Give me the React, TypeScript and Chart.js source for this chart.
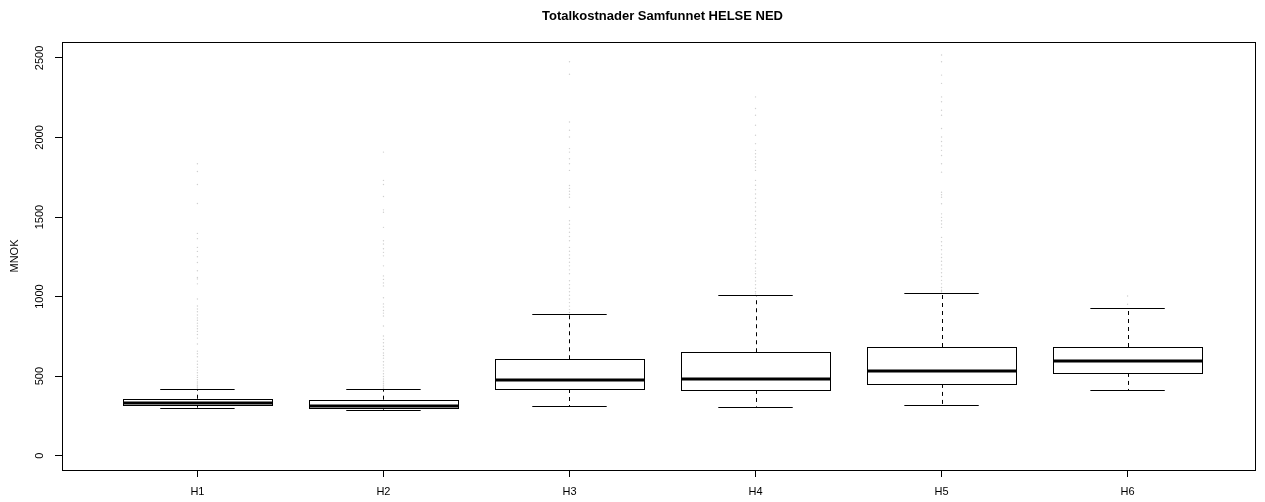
import React, { useEffect, useRef } from "react";
import { Chart, registerables } from "chart.js";

Chart.register(...registerables);

const title = "Totalkostnader Samfunnet HELSE NED";
const yAxisTitle = "MNOK";
const categories = ["H1", "H2", "H3", "H4", "H5", "H6"];
const yTicks = [0, 500, 1000, 1500, 2000, 2500];

const lowerWhisker = [302, 289, 312, 308, 319, 411];
const q1 = [317, 302, 419, 413, 451, 520];
const median = [329, 314, 476, 482, 534, 597];
const q3 = [358, 352, 606, 650, 683, 683];
const upperWhisker = [417, 417, 892, 1008, 1024, 926];

const outliersH1 = [1835, 1786, 1704, 1585, 1397, 1364, 1309, 1284, 1250, 1214, 1162, 1120, 1111, 1080, 985, 941, 922, 905, 884, 866, 851, 833, 815, 798, 781, 762, 739, 702, 657, 641, 622, 594, 575, 556, 538, 521, 505, 492, 478, 463, 451, 440, 432, 425];
const outliersH2 = [1908, 1730, 1704, 1629, 1545, 1530, 1435, 1351, 1330, 1301, 1278, 1256, 1193, 1130, 1108, 1086, 1067, 993, 954, 935, 912, 896, 878, 815, 752, 731, 710, 688, 668, 645, 630, 613, 590, 570, 552, 533, 515, 498, 482, 468, 455, 443, 432, 424];
const outliersH3 = [2476, 2397, 2097, 2045, 2003, 1930, 1908, 1866, 1835, 1793, 1698, 1680, 1662, 1643, 1624, 1561, 1477, 1455, 1430, 1404, 1378, 1351, 1309, 1285, 1262, 1240, 1216, 1193, 1168, 1143, 1099, 1075, 1052, 1030, 1008, 985, 962, 940, 918, 900];
const outliersH4 = [2255, 2182, 2140, 2077, 2014, 1961, 1919, 1898, 1877, 1856, 1835, 1814, 1793, 1730, 1700, 1672, 1645, 1618, 1590, 1563, 1536, 1508, 1481, 1454, 1426, 1399, 1372, 1344, 1317, 1290, 1262, 1235, 1208, 1180, 1160, 1143, 1120, 1098, 1075, 1052, 1030, 1017];
const outliersH5 = [2518, 2476, 2392, 2340, 2255, 2224, 2171, 2140, 2056, 2003, 1975, 1947, 1919, 1887, 1835, 1782, 1656, 1640, 1624, 1583, 1520, 1498, 1477, 1456, 1435, 1372, 1345, 1320, 1294, 1267, 1246, 1222, 1198, 1174, 1150, 1126, 1102, 1080, 1057, 1040, 1030];
const outliersH6 = [1004, 952];
const outliers = [outliersH1, outliersH2, outliersH3, outliersH4, outliersH5, outliersH6];

const FONT = "'Liberation Sans', Arial, Helvetica, sans-serif";

const boxPlugin = {
  id: "rboxplot",
  afterDatasetsDraw(chart: any) {
    const { ctx, chartArea, scales } = chart;
    const xs = scales.x;
    const ys = scales.y;
    const al = (v: number) => Math.round(v) + 0.5;
    ctx.save();
    ctx.strokeStyle = "#000";
    for (let i = 0; i < categories.length; i++) {
      const cx = xs.getPixelForValue(i + 1);
      const hw = xs.getPixelForValue(i + 1 + 0.4) - cx;
      const sw = hw / 2;
      const yLo = ys.getPixelForValue(lowerWhisker[i]);
      const yQ1 = ys.getPixelForValue(q1[i]);
      const yMed = ys.getPixelForValue(median[i]);
      const yQ3 = ys.getPixelForValue(q3[i]);
      const yHi = ys.getPixelForValue(upperWhisker[i]);
      // whiskers
      ctx.lineWidth = 1;
      ctx.setLineDash([4, 4]);
      ctx.beginPath();
      ctx.moveTo(al(cx), yQ3);
      ctx.lineTo(al(cx), yHi);
      ctx.moveTo(al(cx), yQ1);
      ctx.lineTo(al(cx), yLo);
      ctx.stroke();
      ctx.setLineDash([]);
      // staples
      ctx.beginPath();
      ctx.moveTo(cx - sw, al(yHi));
      ctx.lineTo(cx + sw, al(yHi));
      ctx.moveTo(cx - sw, al(yLo));
      ctx.lineTo(cx + sw, al(yLo));
      ctx.stroke();
      // box
      const l = al(cx - hw);
      const r = al(cx + hw);
      const t = al(yQ3);
      const b = al(yQ1);
      ctx.fillStyle = "#fff";
      ctx.fillRect(l, t, r - l, b - t);
      ctx.strokeRect(l, t, r - l, b - t);
      // median
      ctx.lineWidth = 3;
      ctx.beginPath();
      ctx.moveTo(l, Math.round(yMed));
      ctx.lineTo(r, Math.round(yMed));
      ctx.stroke();
    }
    // plot frame
    ctx.lineWidth = 1;
    ctx.strokeRect(al(chartArea.left), al(chartArea.top), Math.round(chartArea.right - chartArea.left), Math.round(chartArea.bottom - chartArea.top));
    // title
    ctx.fillStyle = "#000";
    ctx.font = `bold 13px ${FONT}`;
    ctx.textAlign = "center";
    ctx.textBaseline = "middle";
    ctx.fillText(title, (chartArea.left + chartArea.right) / 2 + 4, 16);
    ctx.restore();
  },
};

export default function App() {
  const ref = useRef<HTMLCanvasElement>(null);
  useEffect(() => {
    if (!ref.current) return;
    const data: { x: number; y: number }[] = [];
    outliers.forEach((arr, i) => arr.forEach((v) => data.push({ x: i + 1, y: v })));
    const chart = new Chart(ref.current, {
      type: "scatter",
      data: {
        datasets: [
          {
            data,
            pointRadius: 0.7,
            pointBackgroundColor: "#cfcfcf",
            pointBorderWidth: 0,
            pointHoverRadius: 0,
          },
        ],
      },
      options: {
        animation: false,
        responsive: true,
        maintainAspectRatio: false,
        layout: { padding: { left: 0, top: 42, right: 10, bottom: 0 } },
        plugins: {
          legend: { display: false },
          tooltip: { enabled: false },
          title: { display: false },
        },
        scales: {
          x: {
            type: "linear",
            min: 0.272,
            max: 6.685,
            afterBuildTicks: (s: any) => {
              s.ticks = categories.map((_, i) => ({ value: i + 1 }));
            },
            afterFit: (s: any) => {
              s.height = 32;
            },
            ticks: {
              callback: (v: any) => categories[Math.round(v) - 1] ?? "",
              font: { family: FONT, size: 11 },
              color: "#000",
              padding: 8,
              maxRotation: 0,
              minRotation: 0,
            },
            grid: { drawOnChartArea: false, drawTicks: true, tickLength: 7, color: "#000" },
            border: { display: false },
          },
          y: {
            type: "linear",
            min: -90,
            max: 2600,
            afterBuildTicks: (s: any) => {
              s.ticks = yTicks.map((v) => ({ value: v }));
            },
            afterFit: (s: any) => {
              s.width = 62;
            },
            ticks: {
              callback: (v: any) => String(v),
              font: { family: FONT, size: 11 },
              color: "#000",
              minRotation: 90,
              maxRotation: 90,
              crossAlign: "center",
              padding: 3,
            },
            title: {
              display: true,
              text: yAxisTitle,
              font: { family: FONT, size: 11 },
              color: "#000",
              padding: { top: 8, bottom: 0 },
            },
            grid: { drawOnChartArea: false, drawTicks: true, tickLength: 7, color: "#000" },
            border: { display: false },
          },
        },
      },
      plugins: [boxPlugin],
    } as any);
    return () => chart.destroy();
  }, []);
  return (
    <div style={{ position: "fixed", left: 0, top: 0, width: 1265, height: 502, background: "#fff" }}>
      <canvas ref={ref} />
    </div>
  );
}
